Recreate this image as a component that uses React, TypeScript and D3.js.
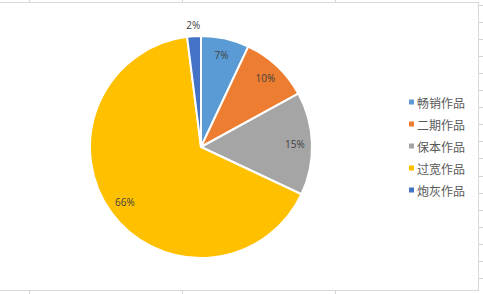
import React from "react";
import * as d3 from "d3";

const categories = ["畅销作品", "二期作品", "保本作品", "过宽作品", "炮灰作品"];
const values = [7, 10, 15, 66, 2];
const colors = ["#5B9BD5", "#ED7D31", "#A5A5A5", "#FFC000", "#4472C4"];
const gridX = [29.5, 182.5, 335.5];
const gridRows = d3.range(17);

const W = 483;
const H = 294;
const cx = 201;
const cy = 147;
const R = 111;

export default function App() {
  const pie = d3.pie<number>().sort(null).value((d) => d);
  const arcs = pie(values);
  const arc = d3.arc<d3.PieArcDatum<number>>().innerRadius(0).outerRadius(R);
  const labelArc = d3.arc<d3.PieArcDatum<number>>().innerRadius(94).outerRadius(94);
  const outerArc = d3.arc<d3.PieArcDatum<number>>().innerRadius(122).outerRadius(122);
  const total = d3.sum(values);
  const rowY = d3.scaleLinear().domain([0, 1]).range([102, 124]);
  const tickY = d3.scaleLinear().domain([0, 1]).range([4.5, 21.6]);

  return (
    <svg
      width={W}
      height={H}
      style={{ position: "absolute", left: 0, top: 0, background: "#fff" }}
    >
      {gridX.map((x, i) => (
        <g key={i}>
          <line x1={x} x2={x} y1={0} y2={2.5} stroke="#D4D4D4" />
          <line x1={x} x2={x} y1={290.5} y2={H} stroke="#D4D4D4" />
        </g>
      ))}
      {gridRows.map((i) => (
        <line key={i} x1={478.5} x2={W} y1={Math.round(tickY(i)) + 0.5} y2={Math.round(tickY(i)) + 0.5} stroke="#D4D4D4" />
      ))}
      <rect x={-1} y={2.5} width={479.5} height={288} fill="#fff" stroke="#D9D9D9" />
      <g transform={`translate(${cx},${cy})`}>
        {arcs.map((a, i) => (
          <path key={i} d={arc(a) || ""} fill={colors[i]} stroke="#fff" strokeWidth={2} />
        ))}
        {arcs.map((a, i) => {
          const inside = a.endAngle - a.startAngle > 0.3;
          const [x, y] = inside ? labelArc.centroid(a) : outerArc.centroid(a);
          return (
            <text
              key={i}
              x={x}
              y={y}
              textAnchor="middle"
              dominantBaseline="central"
              fontFamily="'Open Sans', 'Liberation Sans', sans-serif"
              fontSize={10}
              fill="#404040"
            >
              {Math.round((values[i] / total) * 100)}%
            </text>
          );
        })}
      </g>
      {categories.map((c, i) => (
        <g key={c}>
          <rect x={409} y={rowY(i) - 2.5} width={5} height={5} fill={colors[i]} />
          <text
            x={417}
            y={rowY(i)}
            dominantBaseline="central"
            fontFamily="'Noto Sans CJK SC', sans-serif"
            fontSize={12}
            fill="#595959"
          >
            {c}
          </text>
        </g>
      ))}
    </svg>
  );
}
